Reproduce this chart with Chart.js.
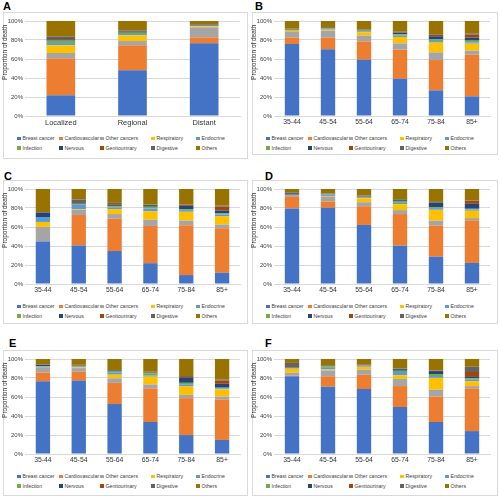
<!DOCTYPE html>
<html>
<head>
<meta charset="utf-8">
<script src="https://cdn.jsdelivr.net/npm/chart.js@4.4.1/dist/chart.umd.min.js"></script>
<style>
  body { margin: 0; width: 500px; height: 499px; background: #fff; position: relative; overflow: hidden;
         font-family: "Liberation Sans", Arial, sans-serif; }
  .tag { position: absolute; font-weight: bold; font-size: 11px; line-height: 11px; color: #000; }
  .box { position: absolute; border: 1px solid #d9d9d9; box-sizing: border-box; }
  .box canvas { position: absolute; left: -2px; top: 0; }
  .legend { position: absolute; left: 0; top: 122px; width: 100%; height: 20px; font-size: 5.2px; color: #404040; }
  .item { position: absolute; white-space: nowrap; line-height: 6px; }
  .item i { display: inline-block; width: 3.5px; height: 3.5px; margin-right: 2px; vertical-align: -0.3px; }
</style>
</head>
<body>
<div class="tag" style="left:3px;top:1px">A</div>
<div class="tag" style="left:255px;top:1px">B</div>
<div class="tag" style="left:4px;top:171px">C</div>
<div class="tag" style="left:265px;top:171px">D</div>
<div class="tag" style="left:9px;top:338px">E</div>
<div class="tag" style="left:265px;top:338px">F</div>

<div class="box" style="left:3px;top:12px;width:245px;height:147px"><canvas id="chartA" width="243" height="118"></canvas><div class="legend" id="legendA"></div></div>
<div class="box" style="left:252px;top:12px;width:246px;height:143px"><canvas id="chartB" width="244" height="118"></canvas><div class="legend" id="legendB"></div></div>
<div class="box" style="left:3px;top:180px;width:245px;height:144px"><canvas id="chartC" width="243" height="118"></canvas><div class="legend" id="legendC"></div></div>
<div class="box" style="left:252px;top:180px;width:246px;height:144px"><canvas id="chartD" width="244" height="118"></canvas><div class="legend" id="legendD"></div></div>
<div class="box" style="left:3px;top:350px;width:245px;height:146px"><canvas id="chartE" width="243" height="118"></canvas><div class="legend" id="legendE"></div></div>
<div class="box" style="left:252px;top:350px;width:246px;height:146px"><canvas id="chartF" width="244" height="118"></canvas><div class="legend" id="legendF"></div></div>

<script>
const stageLabels = ["Localized", "Regional", "Distant"];
const ageLabels = ["35-44", "45-54", "55-64", "65-74", "75-84", "85+"];
const yTickValues = [0, 10, 20, 30, 40, 50, 60, 70, 80, 90, 100];

const seriesNames = ["Breast cancer", "Cardiovascular", "Other cancers", "Respiratory", "Endocrine",
                     "Infection", "Nervous", "Genitourinary", "Digestive", "Others"];
const seriesColors = ["#4472c4", "#ed7d31", "#a5a5a5", "#ffc000", "#5b9bd5",
                      "#70ad47", "#264478", "#9e480e", "#636363", "#997300"];

// one row per cause of death, in the order of seriesNames
const panelA = [
  [21.8, 48.1, 76.5],
  [38.6, 26.3, 6.3],
  [5.9, 4.5, 10.5],
  [8.1, 6.0, 1.0],
  [2.4, 1.4, 0.3],
  [2.5, 1.4, 0.3],
  [1.4, 1.1, 0.4],
  [1.4, 0.7, 0.5],
  [1.8, 0.7, 0.8],
  [16.1, 9.8, 3.4]
];

const panelB = [
  [75.8, 70.2, 59.3, 39.3, 27.0, 20.7],
  [6.7, 12.3, 19.3, 30.5, 31.9, 43.9],
  [5.9, 7.3, 6.0, 6.7, 8.1, 4.2],
  [1.4, 1.1, 3.5, 6.7, 10.2, 7.3],
  [0.7, 0.7, 0.7, 1.4, 1.7, 1.4],
  [0.3, 0.4, 1.0, 1.4, 1.8, 1.8],
  [0.5, 0.3, 0.4, 1.7, 3.2, 3.2],
  [0.2, 0.2, 0.3, 0.5, 1.4, 3.1],
  [0.5, 1.0, 0.5, 0.5, 0.7, 1.1],
  [8.0, 6.5, 9.0, 11.3, 14.0, 13.3]
];

const panelC = [
  [44.8, 40.6, 34.7, 21.9, 9.4, 11.8],
  [0, 32.0, 34.1, 39.2, 52.4, 46.9],
  [15.3, 5.5, 4.8, 6.6, 4.9, 3.8],
  [5.2, 0.7, 5.2, 9.0, 9.3, 9.0],
  [5.2, 4.5, 1.8, 2.8, 1.8, 1.8],
  [0, 0.3, 1.3, 1.8, 1.0, 1.0],
  [4.8, 0.3, 1.1, 1.7, 3.5, 3.1],
  [0, 0.5, 1.0, 0.3, 1.4, 4.2],
  [0, 4.5, 1.4, 0.3, 0.3, 1.0],
  [24.7, 11.1, 14.6, 16.4, 16.0, 17.4]
];

const panelD = [
  [79.5, 80.2, 62.2, 40.3, 28.8, 22.2],
  [12.2, 6.6, 19.7, 33.3, 32.7, 44.8],
  [2.1, 5.2, 4.2, 4.2, 5.2, 2.4],
  [0, 0.7, 4.2, 6.2, 11.4, 7.7],
  [0, 1.4, 1.0, 1.4, 1.8, 1.4],
  [0, 0.3, 0.4, 2.1, 1.0, 0.7],
  [0.3, 0.3, 0.3, 1.4, 4.9, 5.2],
  [0, 0.3, 1.0, 0.3, 0.3, 3.4],
  [2.4, 0.3, 0.3, 0.3, 0.3, 0.3],
  [3.5, 4.7, 6.7, 10.5, 13.6, 11.9]
];

const panelE = [
  [76.6, 77.3, 52.6, 33.7, 19.9, 14.8],
  [9.0, 9.3, 22.3, 35.4, 38.9, 42.6],
  [5.8, 3.8, 4.8, 4.1, 3.4, 3.1],
  [0.3, 1.0, 3.8, 8.2, 9.3, 7.5],
  [0.3, 1.0, 2.1, 1.1, 2.0, 1.1],
  [0.3, 0.3, 1.0, 2.4, 1.4, 0.7],
  [1.6, 0.5, 0.5, 0.3, 5.2, 4.1],
  [0, 0.2, 0.3, 0.4, 1.0, 3.4],
  [0.3, 0.5, 0.9, 1.0, 1.0, 1.1],
  [5.8, 6.1, 11.7, 13.4, 17.9, 21.6]
];

const panelF = [
  [81.8, 70.8, 68.4, 49.5, 33.7, 24.1],
  [0.5, 11.0, 15.1, 22.0, 26.8, 45.0],
  [3.3, 6.2, 5.2, 7.5, 7.2, 2.4],
  [4.1, 1.0, 3.1, 3.8, 12.4, 5.1],
  [0.3, 1.7, 1.0, 3.5, 2.0, 2.1],
  [0.3, 1.4, 0.3, 1.3, 2.1, 1.0],
  [0.3, 0.3, 0.3, 1.7, 3.1, 1.4],
  [0.3, 0.3, 0.8, 0.3, 0.3, 5.2],
  [5.0, 0.8, 0.5, 0.5, 0.4, 5.5],
  [4.1, 6.5, 5.3, 9.9, 12.0, 8.2]
];

const legendColumns = [13, 55, 96, 147, 192];

function buildLegend(id) {
  const legend = document.getElementById(id);
  seriesNames.forEach((name, i) => {
    const item = document.createElement("div");
    item.className = "item";
    item.style.left = legendColumns[i % 5] + "px";
    item.style.top = (i < 5 ? 0 : 9.5) + "px";
    item.innerHTML = `<i style="background:${seriesColors[i]}"></i>${name}`;
    legend.appendChild(item);
  });
}

function drawPanel(canvasId, labels, values) {
  const datasets = seriesNames.map((name, i) => ({
    label: name,
    data: values[i],
    backgroundColor: seriesColors[i],
    borderWidth: 0,
    barPercentage: 0.4,
    categoryPercentage: 1
  }));

  new Chart(document.getElementById(canvasId), {
    type: "bar",
    data: { labels, datasets },
    options: {
      responsive: false,
      animation: false,
      layout: { padding: { top: 8, right: 5, left: 0, bottom: 0 } },
      plugins: { legend: { display: false }, tooltip: { enabled: false } },
      scales: {
        x: {
          stacked: true,
          grid: { display: false, drawTicks: false },
          border: { color: "#d9d9d9" },
          ticks: { color: "#333333", font: { size: labels.length === 3 ? 7.5 : 6.8 }, padding: 2 },
          afterFit: (scale) => { scale.height = 15; }
        },
        y: {
          stacked: true,
          min: 0,
          max: 100,
          afterBuildTicks: (scale) => { scale.ticks = yTickValues.map((v) => ({ value: v })); },
          ticks: { color: "#404040", font: { size: 6 }, padding: 2, callback: (v) => v + "%" },
          grid: { color: "#d9d9d9", drawTicks: false },
          border: { display: false },
          title: { display: true, text: "Proportion of death  ", align: "end", color: "#333333",
                   font: { size: 6.5, lineHeight: 1 }, padding: 0 },
          afterFit: (scale) => { scale.width = 23; }
        }
      }
    }
  });
}

drawPanel("chartA", stageLabels, panelA);
drawPanel("chartB", ageLabels, panelB);
drawPanel("chartC", ageLabels, panelC);
drawPanel("chartD", ageLabels, panelD);
drawPanel("chartE", ageLabels, panelE);
drawPanel("chartF", ageLabels, panelF);

["legendA", "legendB", "legendC", "legendD", "legendE", "legendF"].forEach(buildLegend);
</script>
</body>
</html>
